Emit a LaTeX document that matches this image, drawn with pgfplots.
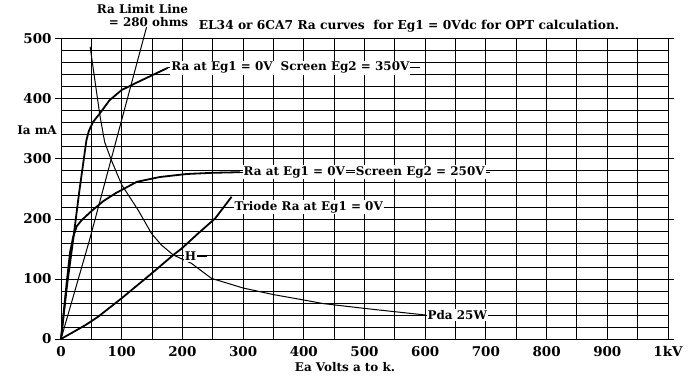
\documentclass[border=0pt]{standalone}
\usepackage{fontspec}
\setmainfont{DejaVu Serif}
\usepackage{pgfplots}
\pgfplotsset{compat=1.18}
\newcommand{\lf}{\bfseries\fontsize{12}{14}\selectfont}
\begin{document}
\begin{tikzpicture}[x=1bp,y=1bp]
\useasboundingbox (0,0) rectangle (700,381);
\begin{axis}[
 at={(61bp,42bp)}, anchor=south west,
 width=607bp, height=300bp, scale only axis,
 xmin=0,xmax=1000,ymin=0,ymax=500,
 clip=false,
 axis line style={black, line width=1bp},
 xtick={0,100,...,1000},
 xticklabels={0,100,200,300,400,500,600,700,800,900,1kV},
 minor x tick num=1,
 ytick={0,100,...,500},
 minor y tick num=4,
 grid=both,
 major grid style={black, line width=1bp},
 minor grid style={black, line width=1bp},
 xtick style={draw=none},
 ytick style={black,line width=1bp},
 tick align=outside, major tick length=6bp, minor tick length=0pt,
 tick label style={font=\bfseries\fontsize{13.5}{15}\selectfont},
 /pgf/number format/assume math mode=true,
 xticklabel style={yshift=2bp},
]
% Screen 350V
\addplot[black, line width=1.8bp] coordinates {(0,0)(10,90)(20,165)(30,245)(42,332)(46,347)(53,362)(64,376)(80,398)(100,415)(122,426)(149,439)(176,452)};
% Screen 250V
\addplot[black, line width=1.8bp] coordinates {(0,0)(10,100)(15,145)(20,170)(26,188)(34,198)(50,213)(70,230)(90,243)(125,262)(163,270)(207,275)(250,277)(295,278)};
% Triode
\addplot[black, line width=1.8bp] coordinates {(0,0)(40,23)(61,37)(100,68)(149,109)(185,140)(199,151)(226,176)(254,201)(281,237)};
% Pda 25W
\addplot[black, line width=1bp] coordinates {(48,487)(64,373)(72,328)(83,298)(100,257)(127,215)(149,176)(165,157)(185,140)(215,126)(248,101)(300,85)(350,74)(400,65)(432,59)(500,51)(600,40)};
% Ra limit line
\addplot[black, line width=1bp] coordinates {(0,0)(47,165)(141,520)};
% leaders and labels
\draw[black, line width=1bp] (axis cs:176,452) -- (axis cs:591,452);
\node[fill=white, inner sep=1bp, anchor=west, font=\lf] at (axis cs:180,452) {Ra at Eg1 = 0V\hspace{8bp}Screen Eg2 = 350V};
\draw[black, line width=1bp] (axis cs:295,278) -- (axis cs:706,278);
\node[fill=white, inner sep=1bp, anchor=west, font=\lf] at (axis cs:299,278) {Ra at Eg1 = 0V};
\node[fill=white, inner sep=1bp, anchor=west, font=\lf] at (axis cs:484,278) {Screen Eg2 = 250V};
\draw[black, line width=1bp] (axis cs:281,220) -- (axis cs:550,220);
\node[fill=white, inner sep=1bp, anchor=west, font=\lf] at (axis cs:284,220) {Triode Ra at Eg1 = 0V};
\draw[black, line width=1bp] (axis cs:205,138) -- (axis cs:240,138);
\node[fill=white, inner sep=1bp, anchor=west, font=\lf] at (axis cs:202,138) {H};
\draw[black, line width=1bp] (axis cs:600,40) -- (axis cs:709,40);
\node[fill=white, inner sep=1bp, anchor=west, font=\lf] at (axis cs:602,40) {Pda 25W};
\end{axis}
\node[font=\bfseries\fontsize{12.3}{14}\selectfont] at (409,355) {EL34 or 6CA7 Ra curves\ \ for Eg1 = 0Vdc for OPT calculation.};
\node[font=\lf] at (142.5,372) {Ra Limit Line};
\node[font=\lf] at (148.5,358.5) {= 280 ohms};
\node[font=\lf] at (37,251) {Ia mA};
\node[font=\lf] at (345,14) {Ea Volts a to k.};
\end{tikzpicture}
\end{document}
